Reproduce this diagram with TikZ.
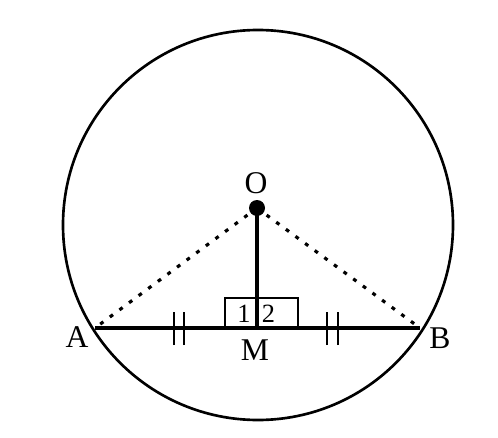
\documentclass[tikz,border=0pt]{standalone}
\usepackage{fontspec}
\setmainfont{Liberation Serif}
\usepackage{tikz}
\usetikzlibrary{calc}
\tikzset{
    ptlabel/.style={
        inner sep=0pt,
        font=\fontsize{18}{21}\selectfont
    },
    anglabel/.style={
        inner sep=0pt,
        font=\fontsize{15}{18}\selectfont
    },
    tickmark/.style={
        line width=1pt
    }
}

\begin{document}
\begin{tikzpicture}
  \useasboundingbox (0,0) rectangle (9.96,8.74);

  % Points
  \coordinate (C) at (5.16,4.24);
  \coordinate (O) at (5.14,4.58);
  \coordinate (A) at (1.90,2.18);
  \coordinate (B) at (8.40,2.18);
  \coordinate (M) at (5.14,2.18);

  % Circle
  \draw[line width=1.5pt] (C) circle (3.9);

  % Radii OA and OB
  \draw[line width=1.8pt, dash pattern=on 2.2pt off 4.6pt] (O) -- (A);
  \draw[line width=1.8pt, dash pattern=on 2.2pt off 4.6pt] (O) -- (B);

  % Chord and perpendicular
  \draw[line width=2pt] (A) -- (B);
  \draw[line width=1.9pt] (O) -- (M);
  \draw[line width=1.2pt] (4.50,2.18) rectangle (5.96,2.78);

  % Equal marks
  \draw[tickmark] (3.48,1.84) -- (3.48,2.50);
  \draw[tickmark] (3.68,1.84) -- (3.68,2.50);
  \draw[tickmark] (6.54,1.84) -- (6.54,2.50);
  \draw[tickmark] (6.76,1.84) -- (6.76,2.50);

  % Centre
  \fill (O) circle (0.16);

  % Labels
  \node[ptlabel] (lO) at (5.12,5.08) {O};
  \node[ptlabel] (lA) at (1.54,2.00) {A};
  \node[ptlabel] (lB) at (8.80,1.98) {B};
  \node[ptlabel] (lM) at (5.10,1.74) {M};
  \node[anglabel] (l1) at (4.88,2.46) {1};
  \node[anglabel] (l2) at (5.37,2.46) {2};
\end{tikzpicture}
\end{document}
